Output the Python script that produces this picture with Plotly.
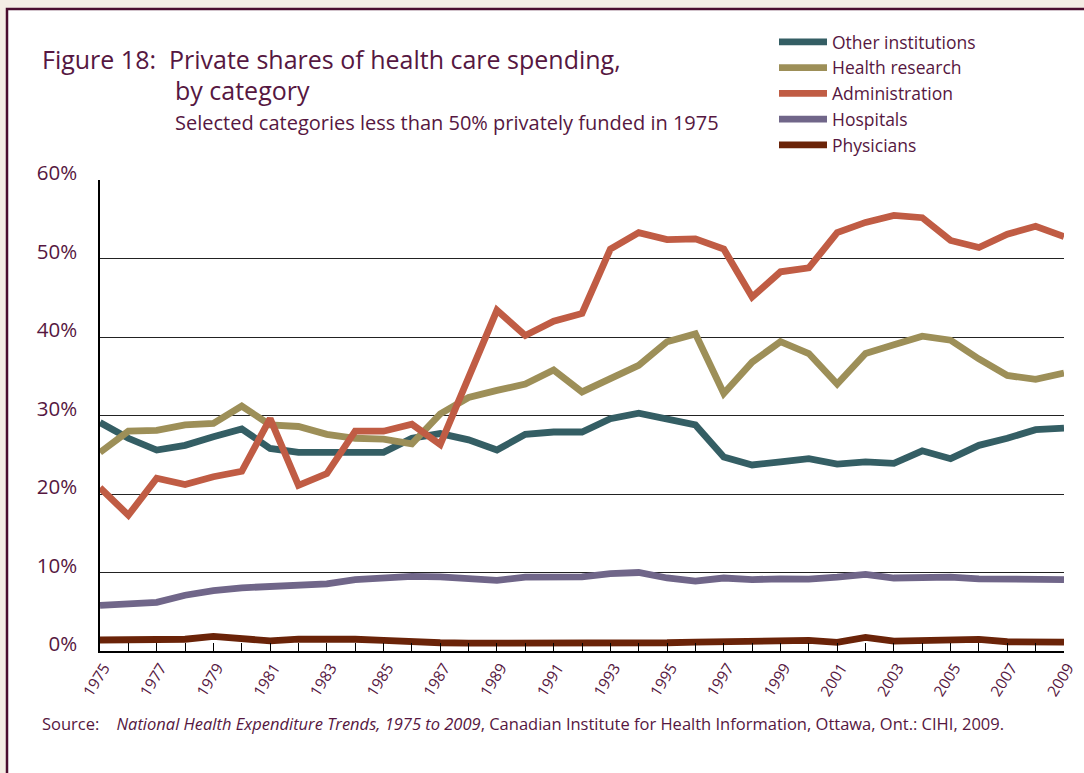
import plotly.graph_objects as go

YEARS = list(range(1975, 2010))

OTHER_INST = [29.1, 27.1, 25.6, 26.2, 27.3, 28.3, 25.8, 25.3, 25.3, 25.3,
              25.3, 27.1, 27.7, 26.9, 25.6, 27.6, 27.9, 27.9, 29.6, 30.3,
              29.5, 28.8, 24.7, 23.7, 24.1, 24.5, 23.8, 24.1, 23.9, 25.5,
              24.5, 26.2, 27.1, 28.2, 28.4]
HEALTH_RESEARCH = [25.3, 28.0, 28.1, 28.8, 29.0, 31.2, 28.8, 28.6, 27.6, 27.1,
                   27.0, 26.4, 30.2, 32.3, 33.2, 34.0, 35.8, 33.0, 34.7, 36.4,
                   39.4, 40.4, 32.8, 36.8, 39.4, 37.9, 34.0, 37.9, 39.0, 40.1,
                   39.6, 37.2, 35.1, 34.6, 35.4]
ADMINISTRATION = [20.8, 17.3, 22.0, 21.2, 22.2, 22.9, 29.6, 21.1, 22.6, 28.0,
                  28.0, 28.9, 26.3, 35.0, 43.4, 40.2, 42.0, 43.0, 51.2, 53.3,
                  52.4, 52.5, 51.2, 45.1, 48.3, 48.8, 53.3, 54.6, 55.5, 55.2,
                  52.3, 51.4, 53.1, 54.1, 52.8]
HOSPITALS = [5.8, 5.95, 6.2, 7.1, 7.7, 8.05, 8.2, 8.35, 8.55, 9.1,
             9.3, 9.5, 9.45, 9.3, 9.0, 9.4, 9.5, 9.45, 9.85, 10.0,
             9.3, 8.9, 9.3, 9.1, 9.2, 9.15, 9.4, 9.75, 9.3, 9.4,
             9.4, 9.2, 9.15, 9.1, 9.1]
PHYSICIANS = [1.4, 1.4, 1.43, 1.5, 1.85, 1.6, 1.3, 1.5, 1.55, 1.5,
              1.35, 1.15, 1.05, 1.0, 1.0, 0.95, 0.9, 0.9, 0.97, 0.97,
              1.05, 1.14, 1.18, 1.27, 1.3, 1.35, 1.1, 1.73, 1.27, 1.35,
              1.35, 1.48, 1.18, 1.22, 1.14]

SERIES = [
    ('Other institutions', OTHER_INST, '#345e64'),
    ('Health research', HEALTH_RESEARCH, '#9d8f58'),
    ('Administration', ADMINISTRATION, '#c05c44'),
    ('Hospitals', HOSPITALS, '#706689'),
    ('Physicians', PHYSICIANS, '#6a2308'),
]

W, H = 1084, 773
L, R, T, B = 100, 20, 180, 122
PW, PH = W - L - R, H - T - B
MAROON = '#561741'
FONT = 'Open Sans'


def px_x(x):
    return (x - L) / PW


def px_y(y):
    return (H - B - y) / PH


fig = go.Figure()
for name, vals, col in SERIES:
    fig.add_trace(go.Scatter(x=YEARS, y=vals, name=name, mode='lines',
                             line=dict(color=col, width=6.8)))

fig.update_layout(
    width=W, height=H,
    margin=dict(l=L, r=R, t=T, b=B, autoexpand=False),
    paper_bgcolor='#f4ede4',
    plot_bgcolor='white',
    font=dict(family=FONT, color=MAROON),
    showlegend=True,
    legend=dict(x=px_x(774), y=px_y(24), xanchor='left', yanchor='top',
                font=dict(size=17.5, color=MAROON), bgcolor='rgba(0,0,0,0)',
                tracegroupgap=0, itemwidth=48),
    xaxis=dict(range=[1975, 2009], tick0=1975, dtick=2, tickangle=-58,
               ticks='inside', ticklen=8, tickcolor='black',
               minor=dict(dtick=1, ticks='inside', ticklen=8, tickcolor='black'),
               showgrid=False, showline=True, linecolor='black', linewidth=1.5,
               ticklabelshift=4,
               tickfont=dict(size=15.5, color=MAROON), zeroline=False),
    yaxis=dict(range=[0, 60], dtick=10, ticksuffix='%', showgrid=True,
               gridcolor='#222', gridwidth=1, showline=True, linecolor='black',
               linewidth=1.5, zeroline=False, ticklabelstandoff=17,
               ticklabelshift=-7,
               tickfont=dict(size=20.5, color=MAROON)),
    shapes=[dict(type='rect', xref='paper', yref='paper', layer='below',
                 x0=px_x(7), x1=px_x(1200), y0=px_y(900), y1=px_y(9),
                 fillcolor='white', line=dict(color='#4a0d2e', width=2.5))],
    annotations=[
        dict(text='Figure 18:  Private shares of health care spending,',
             xref='paper', yref='paper', x=px_x(40), y=px_y(59),
             xanchor='left', yanchor='middle', showarrow=False,
             font=dict(size=25, color=MAROON)),
        dict(text='by category', xref='paper', yref='paper',
             x=px_x(173), y=px_y(90), xanchor='left', yanchor='middle',
             showarrow=False, font=dict(size=25, color=MAROON)),
        dict(text='Selected categories less than 50% privately funded in 1975',
             xref='paper', yref='paper', x=px_x(173), y=px_y(122),
             xanchor='left', yanchor='middle', showarrow=False,
             font=dict(size=20, color=MAROON)),
        dict(text='Source:    <i>National Health Expenditure Trends, 1975 to 2009</i>, '
                  'Canadian Institute for Health Information, Ottawa, Ont.: CIHI, 2009.',
             xref='paper', yref='paper', x=px_x(40), y=px_y(723),
             xanchor='left', yanchor='middle', showarrow=False,
             font=dict(size=16.5, color=MAROON)),
    ],
)

fig.write_html('out.html', config={'displayModeBar': False},
               post_script="document.body.style.margin='0';"
                           "document.body.style.background='#f4ede4';")
